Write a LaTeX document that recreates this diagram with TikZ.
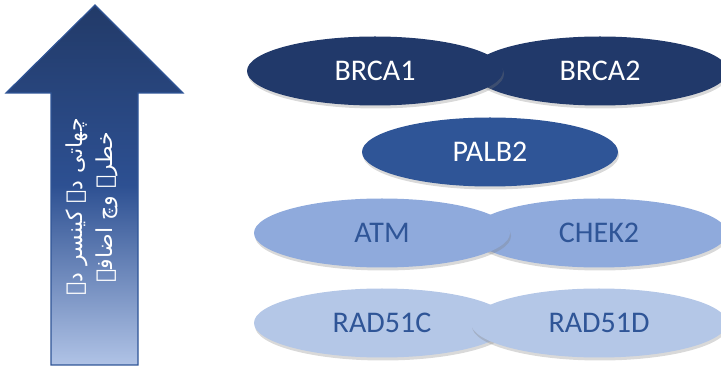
\documentclass[tikz,border=0pt]{standalone}
\usepackage{fontspec}
\setmainfont{Carlito}
\newfontfamily\arabicfont[Script=Arabic]{DejaVu Sans}
\TeXXeTstate=1
\usetikzlibrary{shapes.geometric,shadows}
\definecolor{navy}{HTML}{21396A}
\definecolor{midblue}{HTML}{2F5597}
\definecolor{lightblue}{HTML}{8FAADC}
\definecolor{paleblue}{HTML}{B4C7E7}
\definecolor{arrowtop}{HTML}{223A68}
\definecolor{arrowmid}{HTML}{2D5092}
\definecolor{arrowbot}{HTML}{B0C3E6}
\tikzset{
  gene/.style={ellipse, minimum width=256pt, minimum height=69pt, inner sep=0pt,
    font=\fontsize{30}{34}\selectfont,
    drop shadow={opacity=0.3, shadow xshift=1pt, shadow yshift=-3pt}},
  dark/.style={gene, fill=navy, text=white},
  mid/.style={gene, fill=midblue, text=white},
  light/.style={gene, fill=lightblue, text=midblue},
  pale/.style={gene, fill=paleblue, text=midblue},
  bigarrow/.style={draw=midblue, line width=1.2pt, top color=arrowtop, bottom color=arrowbot, middle color=arrowmid},
}
\begin{document}
\begin{tikzpicture}[x=1pt,y=1pt]
\useasboundingbox (0,0) rectangle (721,367);
% arrow
\path[bigarrow] (95,362) -- (183,274) -- (138,274) -- (138,2) -- (51,2) -- (51,274) -- (6,274) -- cycle;
\node[text=white, rotate=90, align=center, font=\arabicfont\fontsize{22}{30}\selectfont] (risk) at (92,160)
  {\beginR چھاتی دے کینسر دے\endR\\\beginR خطرے وچ اضافہ\endR};
% genes
\node[dark] (brca2) at (600,296) {BRCA2};
\node[dark] (brca1) at (375,296) {BRCA1};
\node[mid] (palb2) at (490,215) {PALB2};
\node[light] (chek2) at (599,134) {CHEK2};
\node[light] (atm) at (382,134) {ATM};
\node[pale] (rad51c) at (382,44) {RAD51C};
\node[pale] (rad51d) at (599,44) {RAD51D};
\end{tikzpicture}
\end{document}
